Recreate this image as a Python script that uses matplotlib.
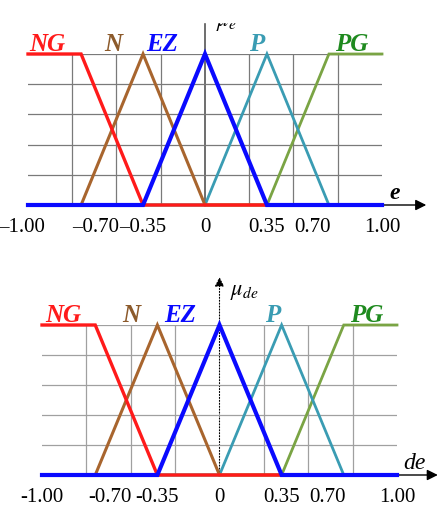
import numpy as np
import matplotlib.pyplot as plt
import matplotlib.transforms as mtransforms
from matplotlib.patches import Rectangle

plt.rcParams['font.family'] = ['Liberation Serif', 'DejaVu Serif']
plt.rcParams['mathtext.fontset'] = 'stix'

# membership functions (same for e and de)
mf_names = ["NG", "N", "EZ", "P", "PG"]
mf_x = [
    [-1.0, -0.70, -0.35, 1.0],
    [-1.0, -0.70, -0.35, 0.0, 1.0],
    [-1.0, -0.35, 0.0, 0.35, 1.0],
    [-1.0, 0.0, 0.35, 0.70, 1.0],
    [-1.0, 0.35, 0.70, 1.0],
]
mf_y = [
    [1, 1, 0, 0],
    [0, 0, 1, 0, 0],
    [0, 0, 1, 0, 0],
    [0, 0, 1, 0, 0],
    [0, 0, 1, 1],
]
line_colors = ["#ff1a1a", "#a8652e", "#0a0aff", "#3a9cb3", "#7aa444"]
text_colors = ["#ff1a1a", "#8c5a2b", "#0a0aff", "#3a9cb3", "#1f8a1f"]
widths = [2.4, 2.2, 3.0, 2.0, 2.0]
order = [4, 3, 1, 0, 2]

tick_vals = [-1.0, -0.70, -0.35, 0.0, 0.35, 0.70, 1.0]
top_ticklabels = ["–1.00", "–0.70", "–0.35", "0", "0.35", "0.70", "1.00"]
bot_ticklabels = ["-1.00", "-0.70", "-0.35", "0", "0.35", "0.70", "1.00"]

top_label_x = [-0.89, -0.52, -0.24, 0.29, 0.83]
bot_label_x = [-0.88, -0.50, -0.22, 0.30, 0.83]

fig = plt.figure(figsize=(4.39, 5.07), dpi=100)
ax1 = fig.add_axes([28/439, 1-205/507, 354/439, 151/507])
ax2 = fig.add_axes([42/439, 1-475/507, 355/439, 150/507])


def draw_panel(ax, ticklabels, label_x, grid_col, xname, yname, yname_pos, xname_pos,
               xarrow, vstyle, shifts):
    ax.set_xlim(-1, 1)
    ax.set_ylim(0, 1)
    for s in ax.spines.values():
        s.set_visible(False)
    ax.set_xticks(np.arange(-1, 1.01, 0.25), minor=True)
    ax.set_yticks(np.arange(0, 1.01, 0.2), minor=True)
    ax.grid(which='minor', color=grid_col, lw=0.9)
    ax.set_yticks([])
    ax.set_xticks(tick_vals)
    ax.set_xticklabels(ticklabels, fontsize=15)
    ax.tick_params(axis='both', which='both', length=0)
    ax.tick_params(axis='x', pad=9)
    # shift some labels like the original
    lbls = ax.get_xticklabels()
    for i, dx in shifts:
        off = mtransforms.ScaledTranslation(dx/100, 0, fig.dpi_scale_trans)
        lbls[i].set_transform(lbls[i].get_transform() + off)

    # axes with arrows
    ax.annotate("", xy=(xarrow, 0), xytext=(-1, 0), annotation_clip=False,
                arrowprops=dict(arrowstyle="-|>", color="black", lw=1.0,
                                mutation_scale=16, shrinkA=0, shrinkB=0), zorder=1)
    ax.annotate("", xy=(0, 1.32), xytext=(0, 0), annotation_clip=False,
                arrowprops=dict(arrowstyle="-|>", color="black", lw=0.8,
                                ls=vstyle, mutation_scale=14, shrinkA=0, shrinkB=0), zorder=1)

    for i in order:
        ax.plot(mf_x[i], mf_y[i], color=line_colors[i], lw=widths[i],
                clip_on=False, zorder=3 + order.index(i), solid_joinstyle='miter')
    for i, name in enumerate(mf_names):
        ax.text(label_x[i], 1.02, name, color=text_colors[i], fontsize=18,
                fontweight='bold', fontstyle='italic', ha='center', va='baseline')

    ax.text(xname_pos[0], xname_pos[1], xname, fontsize=17, fontstyle='italic',
            fontweight='bold' if xname == 'e' else 'normal', ha='center', va='baseline')
    ax.text(yname_pos[0], yname_pos[1], yname, fontsize=16, ha='left', va='center')


draw_panel(ax1, top_ticklabels, top_label_x, "#7a7a7a", "e", r"$\mu_e$",
           (0.06, 1.2), (1.07, 0.04), 1.25, "-", [(0, -6), (1, 15), (5, -16)])
draw_panel(ax2, bot_ticklabels, bot_label_x, "#a0a0a0", "de", r"$\mu_{de}$",
           (0.06, 1.22), (1.10, 0.04), 1.23, ":", [(1, 15), (5, -16)])

# top strip of the original image is blank
fig.add_artist(Rectangle((0, 1-22/507), 1, 22/507, transform=fig.transFigure,
                         color="white", zorder=20))

fig.savefig("out.png", dpi=100)
